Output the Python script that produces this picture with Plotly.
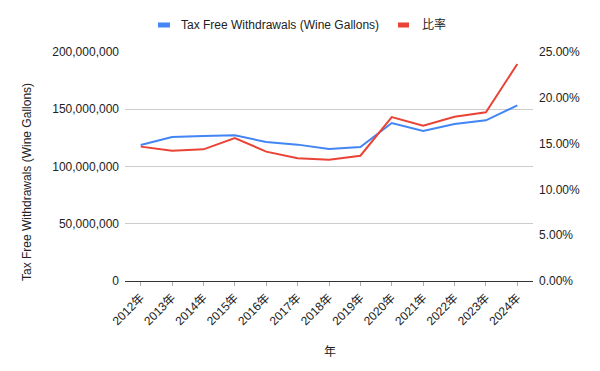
import plotly.graph_objects as go

years = ["2012年", "2013年", "2014年", "2015年", "2016年", "2017年", "2018年",
         "2019年", "2020年", "2021年", "2022年", "2023年", "2024年"]
withdrawals = [118.8e6, 125.8e6, 126.6e6, 127.2e6, 121.4e6, 119.1e6, 115.3e6,
               117.0e6, 138.0e6, 131.0e6, 137.1e6, 140.3e6, 153.4e6]
ratio = [0.1467, 0.1423, 0.1437, 0.1561, 0.1412, 0.1339, 0.1325,
         0.1368, 0.1790, 0.1696, 0.1794, 0.1841, 0.2369]

series_names = ["Tax Free Withdrawals (Wine Gallons)", "比率"]
series_colors = ["#4285f4", "#ea4335"]

left_ticks = [0, 50e6, 100e6, 150e6, 200e6]
left_labels = ["0", "50,000,000", "100,000,000", "150,000,000", "200,000,000"]
right_ticks = [0, 0.05, 0.10, 0.15, 0.20, 0.25]
right_labels = ["0.00%", "5.00%", "10.00%", "15.00%", "20.00%", "25.00%"]

FONT = "Liberation Sans, Arial, Noto Sans CJK JP, sans-serif"
TXT = "#222222"

# plot area in pixels
L, R, T, B = 125, 533, 52, 281
W, H = 600, 371


def px(x):
    return (x - L) / (R - L)


def py(y):
    return (B - y) / (B - T)


fig = go.Figure()
fig.add_trace(go.Scatter(x=years, y=withdrawals, mode="lines", name=series_names[0],
                         line=dict(color=series_colors[0], width=2)))
fig.add_trace(go.Scatter(x=years, y=ratio, mode="lines", name=series_names[1], yaxis="y2",
                         line=dict(color=series_colors[1], width=2)))

shapes = []
annotations = []
# manual legend
legend_items = [(158, 170, 179), (398, 409, 420)]
for (s0, s1, tx), name, col in zip(legend_items, series_names, series_colors):
    shapes.append(dict(type="rect", xref="paper", yref="paper",
                       x0=px(s0), x1=px(s1), y0=py(27.5), y1=py(22.5),
                       fillcolor=col, line=dict(width=0)))
    annotations.append(dict(text=name, xref="paper", yref="paper", x=px(tx), y=py(25),
                            xanchor="left", yanchor="middle", showarrow=False,
                            font=dict(size=12, color=TXT, family=FONT)))

# axis titles
annotations.append(dict(text="Tax Free Withdrawals (Wine Gallons)", xref="paper", yref="paper",
                        x=px(27), y=py(182), textangle=-90, showarrow=False,
                        xanchor="center", yanchor="middle",
                        font=dict(size=12, color=TXT, family=FONT)))
annotations.append(dict(text="年", xref="paper", yref="paper",
                        x=px(330), y=py(352), showarrow=False,
                        xanchor="center", yanchor="middle",
                        font=dict(size=12, color=TXT, family=FONT)))

fig.update_layout(
    width=W, height=H,
    margin=dict(l=L, r=W - R, t=T, b=H - B),
    paper_bgcolor="white", plot_bgcolor="white",
    font=dict(family=FONT, size=12, color=TXT),
    showlegend=False,
    shapes=shapes,
    annotations=annotations,
    xaxis=dict(type="category", range=[-0.5, 12.5], tickangle=-45,
               showgrid=False, ticks="outside", ticklen=4, tickcolor="#aaaaaa",
               showline=False, zeroline=False, automargin=False,
               tickfont=dict(size=12, color=TXT)),
    yaxis=dict(range=[0, 200e6], tickvals=left_ticks, ticktext=left_labels,
               showgrid=True, gridcolor="#cccccc", gridwidth=1,
               zeroline=True, zerolinecolor="#333333", zerolinewidth=1,
               ticks="", ticklabelstandoff=5, automargin=False,
               tickfont=dict(size=12, color=TXT)),
    yaxis2=dict(range=[0, 0.25], tickvals=right_ticks, ticktext=right_labels,
                overlaying="y", side="right", showgrid=False, zeroline=False,
                ticks="", ticklabelstandoff=5, automargin=False,
                tickfont=dict(size=12, color=TXT)),
)

fig.write_html("out.html", config={"displayModeBar": False},
               post_script="document.body.style.margin='0';")
